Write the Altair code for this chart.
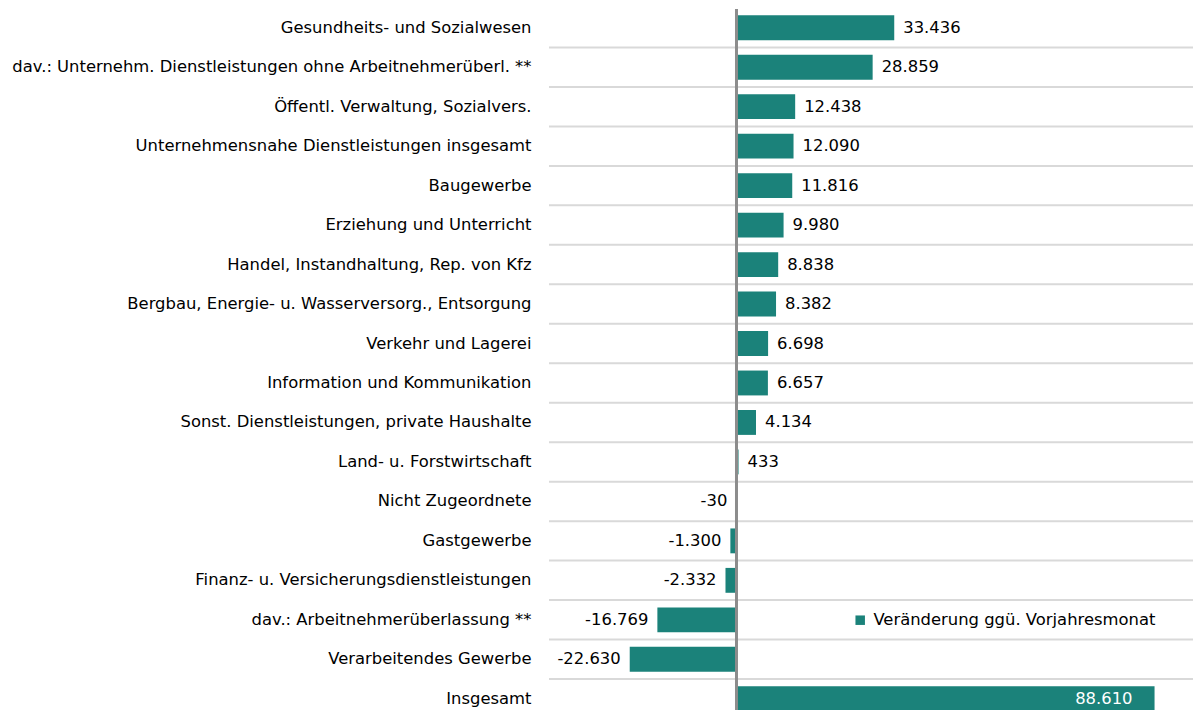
import altair as alt
import pandas as pd

categories = [
    "Gesundheits- und Sozialwesen",
    "dav.: Unternehm. Dienstleistungen ohne Arbeitnehmerüberl. **",
    "Öffentl. Verwaltung, Sozialvers.",
    "Unternehmensnahe Dienstleistungen insgesamt",
    "Baugewerbe",
    "Erziehung und Unterricht",
    "Handel, Instandhaltung, Rep. von Kfz",
    "Bergbau, Energie- u. Wasserversorg., Entsorgung",
    "Verkehr und Lagerei",
    "Information und Kommunikation",
    "Sonst. Dienstleistungen, private Haushalte",
    "Land- u. Forstwirtschaft",
    "Nicht Zugeordnete",
    "Gastgewerbe",
    "Finanz- u. Versicherungsdienstleistungen",
    "dav.: Arbeitnehmerüberlassung **",
    "Verarbeitendes Gewerbe",
    "Insgesamt",
]
values = [33436, 28859, 12438, 12090, 11816, 9980, 8838, 8382, 6698, 6657,
          4134, 433, -30, -1300, -2332, -16769, -22630, 88610]
series_name = "Veränderung ggü. Vorjahresmonat"

def de_fmt(v):
    return f"{v:,}".replace(",", ".")

df = pd.DataFrame({
    "cat": categories,
    "value": values,
    "label": [de_fmt(v) for v in values],
    "series": [series_name] * len(values),
})

LEFT = 541
W, H = 644, 702
YR = 710.5  # band range (last row slightly cropped as in the reference)
FONT = "DejaVu Sans"
FS = 16.4
BAR = "#1b827a"

xscale = alt.Scale(domain=[-39740, 96760], nice=False, zero=False)
yscale = alt.Scale(paddingInner=0.37, paddingOuter=0.185, range=[0, YR])
ysort = categories

base = alt.Chart(df)

grid = base.mark_rule(color="#d9d9d9", strokeWidth=2, yOffset=YR / len(categories) / 2).encode(
    y=alt.Y("cat:N", sort=ysort, scale=yscale, title=None),
    x=alt.value(0),
    x2=alt.value(W),
)

bars = base.mark_bar().encode(
    y=alt.Y("cat:N", sort=ysort, scale=yscale, title=None,
            axis=alt.Axis(domain=False, ticks=False, labelFont=FONT, labelFontSize=FS,
                          labelColor="#000000", labelPadding=18, labelLimit=700, grid=False)),
    x=alt.X("value:Q", scale=xscale, axis=None),
    color=alt.Color("series:N", scale=alt.Scale(range=[BAR]),
                    legend=alt.Legend(title=None, orient="none", legendX=303, legendY=604,
                                      symbolType="square", symbolSize=90, labelFont=FONT,
                                      labelFontSize=FS, labelColor="#000000", labelOffset=5,
                                      labelLimit=500, padding=0, symbolStrokeWidth=0)),
)

pos_lab = base.transform_filter("datum.value >= 0 && datum.cat != 'Insgesamt'").mark_text(
    align="left", baseline="middle", dx=9, font=FONT, fontSize=FS, color="#000000"
).encode(y=alt.Y("cat:N", sort=ysort, scale=yscale), x=alt.X("value:Q", scale=xscale), text="label:N")

neg_lab = base.transform_filter("datum.value < 0").mark_text(
    align="right", baseline="middle", dx=-9, font=FONT, fontSize=FS, color="#000000"
).encode(y=alt.Y("cat:N", sort=ysort, scale=yscale), x=alt.X("value:Q", scale=xscale), text="label:N")

in_lab = base.transform_filter("datum.cat == 'Insgesamt'").mark_text(
    align="right", baseline="middle", dx=-22, font=FONT, fontSize=FS, color="#ffffff"
).encode(y=alt.Y("cat:N", sort=ysort, scale=yscale), x=alt.X("value:Q", scale=xscale), text="label:N")

zero = alt.Chart(pd.DataFrame({"z": [0]})).mark_rule(color="#8c8c8c", strokeWidth=3).encode(
    x=alt.X("z:Q", scale=xscale),
    y=alt.value(1),
    y2=alt.value(H),
)

chart = alt.layer(grid, bars, pos_lab, neg_lab, in_lab, zero).properties(
    width=W, height=H, background="#ffffff",
    autosize=alt.AutoSizeParams(type="none"),
    padding={"left": LEFT, "top": 0, "right": 0, "bottom": 0},
).configure_view(stroke=None)

chart.save("out.html", embed_options={"renderer": "svg", "actions": False})
